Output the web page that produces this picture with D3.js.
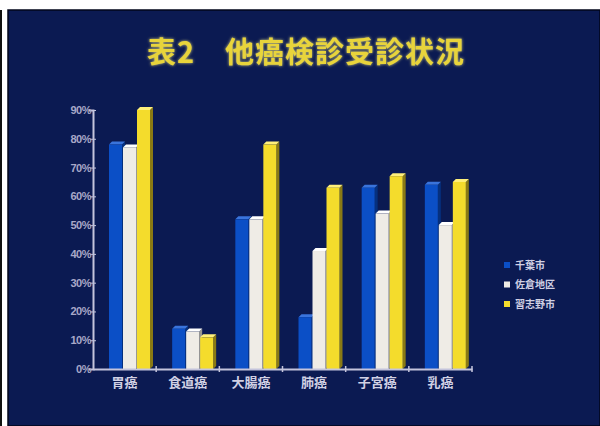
<!DOCTYPE html>
<html>
<head>
<meta charset="utf-8">
<script src="https://cdn.jsdelivr.net/npm/d3@7"></script>
<style>
  body { margin: 0; background: #fff; }
  svg { display: block; }
</style>
</head>
<body>
<svg id="chart" width="600" height="426"></svg>
<script>
// data (percent)
var categories = ["胃癌", "食道癌", "大腸癌", "肺癌", "子宮癌", "乳癌"];
var seriesNames = ["千葉市", "佐倉地区", "習志野市"];
var chiba = [78, 14, 52, 18, 63, 64];
var sakura = [77, 13, 52, 41, 54, 50];
var narashino = [90, 11, 78, 63, 67, 65];
var yTicks = [0, 10, 20, 30, 40, 50, 60, 70, 80, 90];

var values = [chiba, sakura, narashino];
var front = ["#0b4fc6", "#efece6", "#f4dc2c"];
var side = ["#06307e", "#9a9890", "#8a7a14"];
var topc = ["#3a74dc", "#ffffff", "#fff07a"];

var svg = d3.select("#chart");

// panel
svg.append("rect").attr("x", 0).attr("y", 10).attr("width", 2).attr("height", 416).attr("fill", "#111");
svg.append("rect").attr("x", 8).attr("y", 10).attr("width", 592).attr("height", 416)
  .attr("fill", "#0b1a52").attr("stroke", "#02061a").attr("stroke-width", 1.5);

// title with glow
var defs = svg.append("defs");
var f = defs.append("filter").attr("id", "glow").attr("x", "-10%").attr("y", "-30%").attr("width", "120%").attr("height", "160%");
f.append("feGaussianBlur").attr("in", "SourceAlpha").attr("stdDeviation", 1.6).attr("result", "b");
f.append("feFlood").attr("flood-color", "#fff27a").attr("flood-opacity", 0.8);
f.append("feComposite").attr("in2", "b").attr("operator", "in").attr("result", "g");
var m = f.append("feMerge");
m.append("feMergeNode").attr("in", "g");
m.append("feMergeNode").attr("in", "SourceGraphic");

svg.append("text").attr("x", 306).attr("y", 63).attr("text-anchor", "middle")
  .attr("font-family", "'Noto Sans CJK JP', sans-serif").attr("font-weight", "bold")
  .attr("font-size", 29).attr("letter-spacing", 1).attr("fill", "#e8d43a").attr("filter", "url(#glow)")
  .attr("xml:space", "preserve")
  .text("表2　他癌検診受診状況");

// scales
var x0 = d3.scaleBand().domain(categories).range([93, 472]).padding(0);
var x1 = d3.scaleBand().domain(seriesNames).range([16, 58]).padding(0);
var y = d3.scaleLinear().domain([0, 90]).range([369, 110]);

var depth = 3;
var bw = x1.bandwidth() - 1;

// bars drawn series by series so later ones cover earlier sides
seriesNames.forEach(function(s, si) {
  var g = svg.append("g");
  var d = categories.map(function(c, i) { return { c: c, v: values[si][i] }; });
  var bars = g.selectAll("g").data(d).enter().append("g");
  bars.append("path").attr("fill", side[si]).attr("d", function(p) {
    var x = x0(p.c) + x1(s) + bw, yt = y(p.v), yb = y(0);
    return "M" + x + "," + yt + "L" + (x + depth) + "," + (yt - depth) + "L" + (x + depth) + "," + (yb - depth) + "L" + x + "," + yb + "Z";
  });
  bars.append("path").attr("fill", topc[si]).attr("d", function(p) {
    var x = x0(p.c) + x1(s), yt = y(p.v);
    return "M" + x + "," + yt + "L" + (x + depth) + "," + (yt - depth) + "L" + (x + bw + depth) + "," + (yt - depth) + "L" + (x + bw) + "," + yt + "Z";
  });
  bars.append("rect").attr("fill", front[si])
    .attr("x", function(p) { return x0(p.c) + x1(s); })
    .attr("y", function(p) { return y(p.v); })
    .attr("width", bw)
    .attr("height", function(p) { return y(0) - y(p.v); });
});

// axes
var axisColor = "#c4c4dc";
var yAxis = svg.append("g").attr("transform", "translate(93,0)")
  .call(d3.axisLeft(y).tickValues(yTicks).tickSize(4).tickFormat(function(d) { return d + "%"; }));
yAxis.select(".domain").attr("stroke", axisColor).attr("stroke-width", 2);
yAxis.selectAll(".tick line").attr("stroke", axisColor).attr("x2", 3).attr("x1", -3);
yAxis.selectAll("text").attr("fill", "#a8a8c8").attr("font-size", 11).attr("font-weight", "bold")
  .attr("letter-spacing", -0.5)
  .attr("font-family", "'Liberation Sans', Arial, sans-serif").attr("x", -2);

var xAxis = svg.append("g").attr("transform", "translate(0,369)")
  .call(d3.axisBottom(x0).tickSize(0));
xAxis.select(".domain").attr("stroke", axisColor).attr("stroke-width", 2);
xAxis.selectAll("text").attr("fill", "#d0d0e4").attr("font-size", 13).attr("dy", "1.15em")
  .attr("font-weight", "bold").attr("font-family", "'Noto Sans CJK JP', sans-serif");
// boundary ticks between groups
svg.append("g").selectAll("line").data(categories).enter().append("line")
  .attr("x1", function(c) { return x0(c) + x0.bandwidth(); })
  .attr("x2", function(c) { return x0(c) + x0.bandwidth(); })
  .attr("y1", 366).attr("y2", 372).attr("stroke", axisColor).attr("stroke-width", 1.5);

// legend
var lg = svg.append("g").selectAll("g").data(seriesNames).enter().append("g")
  .attr("transform", function(d, i) { return "translate(504," + (265 + i * 19.5) + ")"; });
lg.append("rect").attr("x", 0).attr("y", -3).attr("width", 6).attr("height", 6)
  .attr("fill", function(d, i) { return front[i]; });
lg.append("text").attr("x", 11).attr("y", 0).attr("dy", "0.35em")
  .attr("fill", "#d0d0e4").attr("font-size", 10).attr("font-weight", "bold")
  .attr("font-family", "'Noto Sans CJK JP', sans-serif")
  .text(function(d) { return d; });
</script>
</body>
</html>
